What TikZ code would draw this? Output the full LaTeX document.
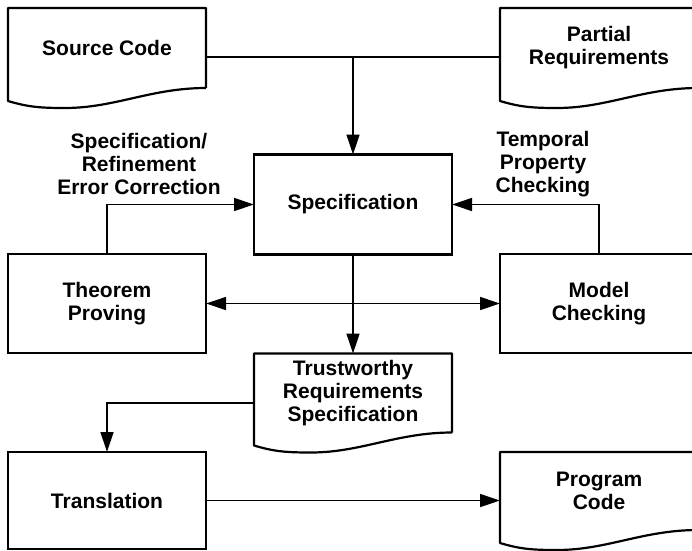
\documentclass[tikz,border=0pt]{standalone}
\usepackage{fontspec}
\setmainfont{Liberation Sans}
\usetikzlibrary{arrows.meta,positioning}

% outline of a document box: flat top, wavy bottom
\newcommand{\docedge}[1]{%
  \draw[line width=2.2pt,line join=round] (#1.south east) -- (#1.north east) -- (#1.north west)
    -- ([yshift=-13pt]#1.south west)
    .. controls +(20pt,-6pt) and +(-25pt,0pt) .. ([xshift=57pt,yshift=-20pt]#1.south west)
    .. controls +(50pt,0pt) and +(-55pt,0pt) .. (#1.south east);}

\begin{document}
\begin{tikzpicture}[x=1pt,y=1pt,>={Triangle[length=20pt,width=13pt]},line width=1.3pt,
  font=\bfseries\fontsize{21}{23}\selectfont,
  main node/.style={rectangle,draw,line width=2.2pt,minimum width=198pt,minimum height=99pt,
    align=center,inner sep=0pt,outer sep=0pt},
  doc node/.style={rectangle,minimum width=198pt,minimum height=80pt,
    align=center,inner sep=0pt,outer sep=0pt},
  text node/.style={align=center,inner sep=0pt}]

  \useasboundingbox (0,0) rectangle (692,550);

  \node[doc node] (1) at (107,502) {Source Code};
  \node[doc node] (2) at (599,502) {Partial\\Requirements};
  \node[main node,minimum height=100pt] (3) at (353,345.5) {Specification};
  \node[main node] (4) at (107,246.5) {Theorem\\Proving};
  \node[main node] (5) [right=294pt of 4] {Model\\Checking};
  \node[doc node,minimum height=79pt] (6) [below=99pt of 3] {Trustworthy\\Requirements\\Specification};
  \node[main node,minimum height=97pt] (7) at (107,49.5) {Translation};
  \node[doc node,minimum height=78pt] (8) [right=294pt of 7.north east,anchor=north west] {Program\\Code};

  \node[text node] (9) at (139,386) {Specification/\\Refinement\\Error Correction};
  \node[text node] (10) at (543,386) {Temporal\\Property\\Checking};

  \docedge{1}
  \docedge{2}
  \docedge{6}
  \docedge{8}

  \coordinate (a) at ([yshift=-9pt]1.east);
  \coordinate (b) at (a -| 3.north);
  \draw (a) -- (a -| 2.west);
  \draw[->] (b) -- (3.north);
  \draw[->] (4.north) |- (3.west);
  \draw[->] (5.north) |- (3.east);
  \draw[<->] (4) -- (5);
  \draw[->] (3) -- (6);
  \draw[->] ([yshift=-10pt]6.west) -| (7.north);
  \draw[->] (7) -- (7 -| 8.west);

\end{tikzpicture}
\end{document}
